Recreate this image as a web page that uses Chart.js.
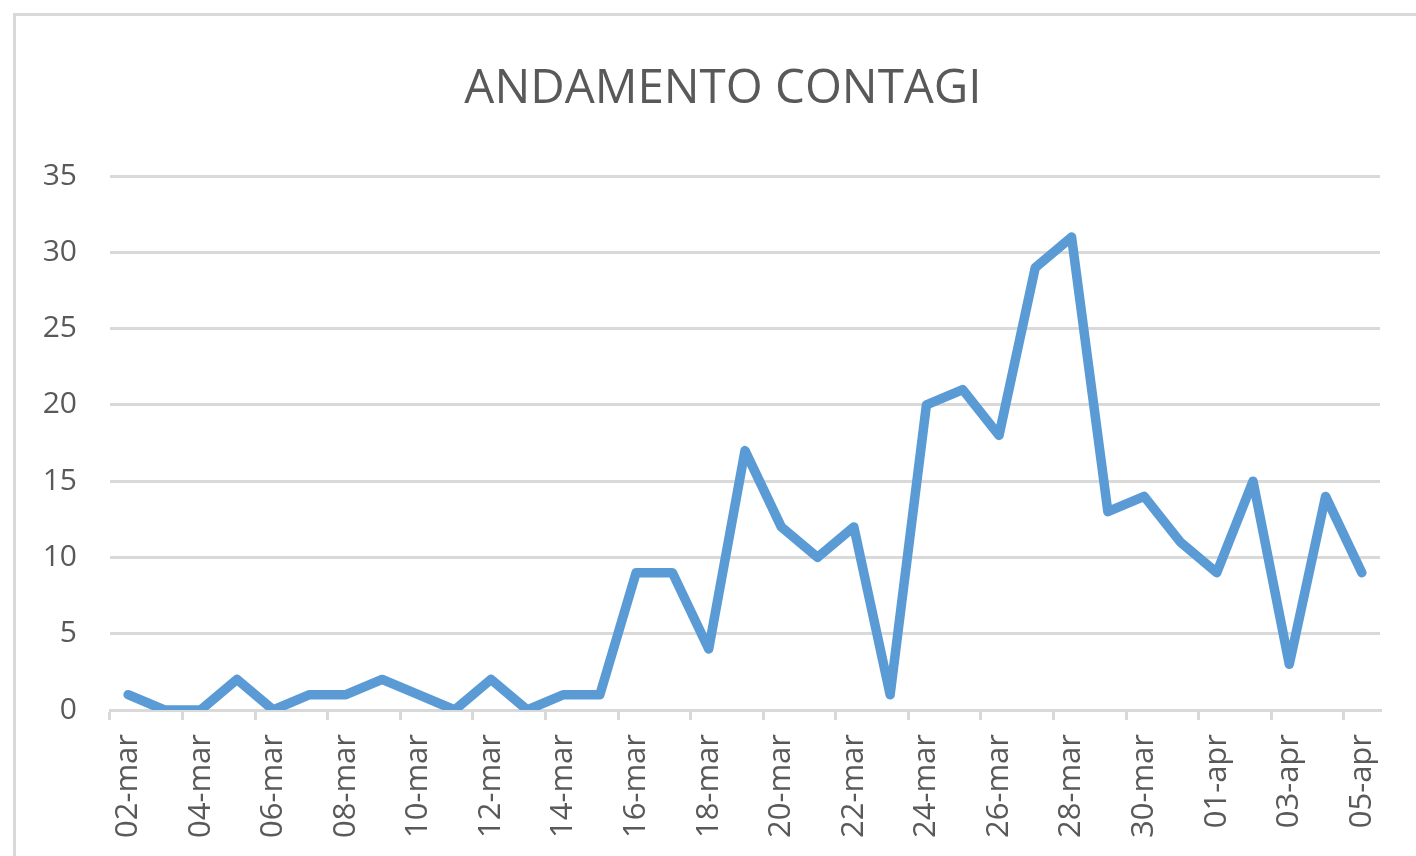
<!DOCTYPE html>
<html>
<head>
<meta charset="utf-8">
<script src="https://cdn.jsdelivr.net/npm/chart.js@4/dist/chart.umd.min.js"></script>
<style>
  body { margin: 0; background: #fff; }
  #wrap { position: relative; width: 1416px; height: 856px; overflow: hidden; }
  #frame { position: absolute; left: 13px; top: 13px; width: 1500px; height: 1000px;
           border: 3px solid #d9d9d9; box-sizing: border-box; }
  #chart { position: absolute; left: 0; top: 0; }
</style>
</head>
<body>
<div id="wrap">
  <div id="frame"></div>
  <canvas id="chart" width="1416" height="856"></canvas>
</div>
<script>
// giorni dal 02-mar al 05-apr
const giorni = [
  '02-mar', '03-mar', '04-mar', '05-mar', '06-mar', '07-mar', '08-mar', '09-mar',
  '10-mar', '11-mar', '12-mar', '13-mar', '14-mar', '15-mar', '16-mar', '17-mar',
  '18-mar', '19-mar', '20-mar', '21-mar', '22-mar', '23-mar', '24-mar', '25-mar',
  '26-mar', '27-mar', '28-mar', '29-mar', '30-mar', '31-mar', '01-apr', '02-apr',
  '03-apr', '04-apr', '05-apr'
];
const contagi = [
  1, 0, 0, 2, 0, 1, 1, 2, 1, 0, 2, 0, 1, 1, 9, 9,
  4, 17, 12, 10, 12, 1, 20, 21, 18, 29, 31, 13, 14, 11, 9, 15,
  3, 14, 9
];
const yTicks = [0, 5, 10, 15, 20, 25, 30, 35];

const grigio = '#d9d9d9';
const testo = '#595959';

new Chart(document.getElementById('chart'), {
  type: 'line',
  data: {
    labels: giorni,
    datasets: [{
      label: 'Contagi',
      data: contagi,
      borderColor: '#5b9bd5',
      borderWidth: 9.5,
      borderCapStyle: 'round',
      borderJoinStyle: 'round',
      pointRadius: 0,
      tension: 0,
      fill: false
    }]
  },
  options: {
    responsive: false,
    animation: false,
    // left padding + empty right axis so the title sits where it did in the original
    layout: { padding: { left: 30, right: 0, top: 0, bottom: 0 } },
    plugins: {
      legend: { display: false },
      tooltip: { enabled: false },
      title: {
        display: true,
        text: 'ANDAMENTO CONTAGI',
        color: testo,
        font: { family: 'Open Sans', size: 47.5, weight: 'normal', lineHeight: 1.2 },
        padding: { top: 61, bottom: 58 }
      }
    },
    scales: {
      x: {
        offset: true,
        afterFit: (s) => { s.height = 146; },
        border: { display: true, color: grigio, width: 3 },
        grid: {
          offset: true,
          drawOnChartArea: false,
          drawTicks: true,
          tickLength: 10,
          lineWidth: 3,
          color: (ctx) => (ctx.index % 2 === 0 ? grigio : 'rgba(0,0,0,0)')
        },
        ticks: {
          autoSkip: false,
          minRotation: 90,
          maxRotation: 90,
          padding: 14,
          color: testo,
          font: { family: 'Open Sans', size: 31 },
          callback: (v, i) => (i % 2 === 0 ? giorni[i] : '')
        }
      },
      y: {
        min: yTicks[0],
        max: yTicks[yTicks.length - 1],
        afterFit: (s) => { s.width = 80; },
        afterBuildTicks: (s) => { s.ticks = yTicks.map(v => ({ value: v })); },
        border: { display: false },
        grid: { color: grigio, lineWidth: 3, drawTicks: false },
        ticks: {
          padding: 33,
          color: testo,
          font: { family: 'Open Sans', size: 30 }
        }
      },
      spacer: {
        type: 'linear',
        position: 'right',
        afterFit: (s) => { s.width = 36; },
        border: { display: false },
        grid: { display: false },
        ticks: { display: false }
      }
    }
  }
});
</script>
</body>
</html>
